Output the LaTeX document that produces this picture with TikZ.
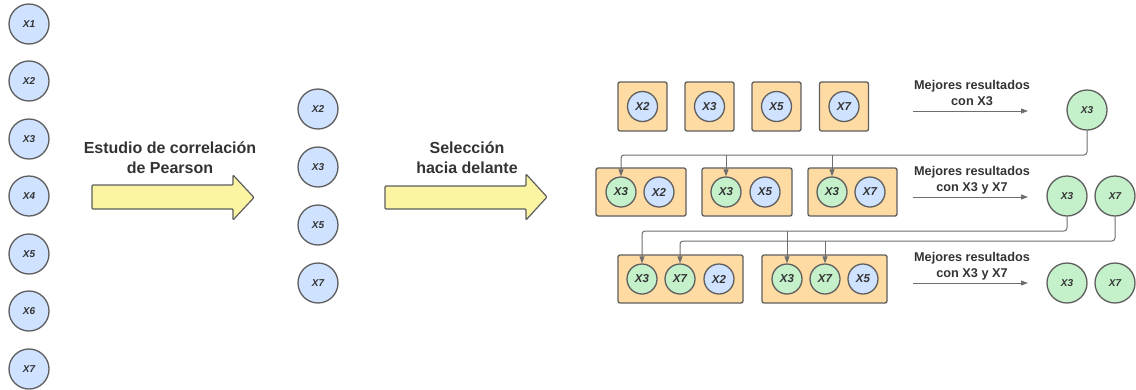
\documentclass[tikz,border=0pt]{standalone}
\usepackage{fontspec}
\setmainfont{Liberation Sans}
\usetikzlibrary{arrows.meta,calc}
\definecolor{cblue}{HTML}{CFE2FF}
\definecolor{cgreen}{HTML}{C4F0CA}
\definecolor{cbox}{HTML}{FFDBA4}
\definecolor{cyel}{HTML}{FBF4A2}
\definecolor{cline}{HTML}{5E5E5E}
\definecolor{cconn}{HTML}{6E6E6E}
\definecolor{ctext}{HTML}{333333}
\tikzset{
  x=1pt,y=-1pt,
  var/.style={circle,draw=cline,line width=1.3pt,minimum size=40pt,inner sep=0pt,
    font=\fontsize{10}{10}\selectfont\bfseries\itshape,text=ctext},
  bvar/.style={var,fill=cblue},
  gvar/.style={var,fill=cgreen},
  sbvar/.style={bvar,minimum size=30pt,font=\fontsize{11.5}{11.5}\selectfont\bfseries\itshape},
  sgvar/.style={gvar,minimum size=30pt,font=\fontsize{11.5}{11.5}\selectfont\bfseries\itshape},
  grp/.style={rectangle,draw=cline,fill=cbox,line width=1.3pt,rounded corners=2pt,inner sep=0pt},
  blockarrow/.style={draw=cline,fill=cyel,line width=1.2pt,rounded corners=1pt},
  bigtxt/.style={align=center,font=\fontsize{16}{20}\selectfont\bfseries,text=ctext},
  smtxt/.style={align=center,font=\fontsize{12.7}{16}\selectfont\bfseries,text=ctext},
  conn/.style={draw=cconn,line width=1pt,rounded corners=3pt},
  tip/.style={-{Triangle[length=7pt,width=5pt]}},
}
\begin{document}
\begin{tikzpicture}
\useasboundingbox (0,0) rectangle (1136,389);
% left column
\foreach \i/\y in {1/24,2/81,3/139,4/196,5/254,6/311,7/369}
  \node[bvar] (L\i) at (29,\y) {X\i};
% middle column
\foreach \i/\y in {2/109,3/167,5/225,7/283}
  \node[bvar] (M\i) at (318,\y) {X\i};
% block arrows
\draw[blockarrow] (92,185) -- (233,185) -- (233,175) -- (254,197.5) -- (233,220) -- (233,209) -- (92,209) -- cycle;
\node[bigtxt] (t1) at (170,158) {Estudio de correlación\\de Pearson};
\draw[blockarrow] (385,186) -- (526,186) -- (526,174) -- (547,197) -- (526,220) -- (526,209) -- (385,209) -- cycle;
\node[bigtxt] (t2) at (467,158) {Selección\\hacia delante};
% row 1
\foreach \n/\x in {2/642.5,3/709.5,5/776.5,7/844}{
  \node[grp,minimum width=49pt,minimum height=49pt] (B1x\n) at (\x,106.5) {};
  \node[sbvar] (R1x\n) at (\x,106.5) {X\n};
}
% row 2
\node[grp,minimum width=90pt,minimum height=48pt] (B2a) at (641,192) {};
\node[grp,minimum width=90pt,minimum height=48pt] (B2b) at (747,192) {};
\node[grp,minimum width=89pt,minimum height=48pt] (B2c) at (852.5,192) {};
\node[sgvar] (R2a3) at (621,192) {X3};
\node[sbvar] (R2a2) at (659,192) {X2};
\node[sgvar] (R2b3) at (726,192) {X3};
\node[sbvar] (R2b5) at (765,192) {X5};
\node[sgvar] (R2c3) at (832,192) {X3};
\node[sbvar] (R2c7) at (870,192) {X7};
% row 3
\node[grp,minimum width=125pt,minimum height=48pt] (B3a) at (680.5,279) {};
\node[grp,minimum width=125pt,minimum height=48pt] (B3b) at (824.5,279) {};
\node[sgvar] (R3a3) at (642,279) {X3};
\node[sgvar] (R3a7) at (680,279) {X7};
\node[sbvar] (R3a2) at (719,279) {X2};
\node[sgvar] (R3b3) at (787,279) {X3};
\node[sgvar] (R3b7) at (825,279) {X7};
\node[sbvar] (R3b5) at (863,279) {X5};
% right side
\node[smtxt] (m1) at (972,93) {Mejores resultados\\con X3};
\node[smtxt] (m2) at (972,180) {Mejores resultados\\con X3 y X7};
\node[smtxt] (m3) at (972,266) {Mejores resultados\\con X3 y X7};
\coordinate (a1s) at (913,111); \coordinate (a1e) at (1028,111);
\coordinate (a2s) at (913,197); \coordinate (a2e) at (1028,197);
\coordinate (a3s) at (913,283); \coordinate (a3e) at (1028,283);
\draw[conn,tip] (a1s) -- (a1e);
\draw[conn,tip] (a2s) -- (a2e);
\draw[conn,tip] (a3s) -- (a3e);
\node[gvar] (G1) at (1087,110) {X3};
\node[gvar] (G2a) at (1067,196) {X3};
\node[gvar] (G2b) at (1115,196) {X7};
\node[gvar] (G3a) at (1067,283) {X3};
\node[gvar] (G3b) at (1115,283) {X7};
% connectors row1 -> row2
\coordinate (y1) at (0,155);
\draw[conn,tip] (G1.south) |- (R2a3.north |- y1) -- (R2a3.north);
\draw[conn,tip] (R2b3.north |- y1) -- (R2b3.north);
\draw[conn,tip] (R2c3.north |- y1) -- (R2c3.north);
% connectors row2 -> row3
\coordinate (y2) at (0,231);
\coordinate (y3) at (0,241);
\draw[conn,tip] (G2a.south) |- (R3a3.north |- y2) -- (R3a3.north);
\draw[conn,tip] (R3b3.north |- y2) -- (R3b3.north);
\draw[conn,tip] (G2b.south) |- (R3a7.north |- y3) -- (R3a7.north);
\draw[conn,tip] (R3b7.north |- y3) -- (R3b7.north);
\end{tikzpicture}
\end{document}
